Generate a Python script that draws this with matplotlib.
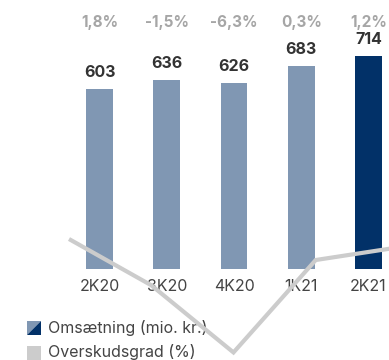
import matplotlib
matplotlib.use("Agg")
import matplotlib.pyplot as plt
from matplotlib.patches import Polygon, Rectangle

plt.rcParams['font.family'] = ['Inter', 'DejaVu Sans']

kvartaler = ["2K20", "3K20", "4K20", "1K21", "2K21"]
omsaetning = [603, 636, 626, 683, 714]
overskudsgrad = [1.8, -1.5, -6.3, 0.3, 1.2]
pct_tekst = ["1,8%", "-1,5%", "-6,3%", "0,3%", "1,2%"]

lys = "#8097b3"
moerk = "#023168"
graa = "#cccccc"

fig = plt.figure(figsize=(3.89, 3.60), dpi=100)

# søjler
ax = fig.add_axes([0, 0, 1, 1])
x = list(range(len(kvartaler)))
farver = [lys] * (len(x) - 1) + [moerk]
ax.bar(x, omsaetning, width=0.40, color=farver, zorder=2)
ax.set_xlim(-1.48, 4.305)
ax.set_ylim(-305, 903)
ax.axis("off")

for i, v in enumerate(omsaetning):
    ax.annotate(str(v), (i, v), xytext=(0, 6.5), textcoords="offset points",
                ha="center", va="bottom", fontsize=11.5, fontweight="bold",
                color="#333333")
    ax.text(i, 826, pct_tekst[i], ha="center", va="center", fontsize=11,
            fontweight="bold", color="#a6a6a6")
    ax.text(i, -58, kvartaler[i], ha="center", va="center", fontsize=11.5,
            color="#444444")

# overskudsgrad som linje oven på det hele
ax2 = fig.add_axes([0, 0, 1, 1], zorder=5)
ax2.patch.set_alpha(0)
ax2.plot(range(len(overskudsgrad)), overskudsgrad, color=graa, lw=3.0,
         solid_joinstyle="miter", solid_capstyle="butt")
ax2.set_xlim(-0.839, 3.891)
ax2.set_ylim(-6.84, 18.87)
ax2.axis("off")

# forklaring
W, H = 389.0, 360.0
def px(x0, y0):
    return (x0 / W, 1 - y0 / H)

x0, y0, s = 27, 321, 14
fig.patches.append(Polygon([px(x0, y0), px(x0 + s, y0), px(x0, y0 + s)],
                           closed=True, transform=fig.transFigure,
                           facecolor=lys, edgecolor="none"))
fig.patches.append(Polygon([px(x0 + s, y0), px(x0 + s, y0 + s), px(x0, y0 + s)],
                           closed=True, transform=fig.transFigure,
                           facecolor=moerk, edgecolor="none"))
fig.patches.append(Rectangle(px(x0, y0 + 25 + s), s / W, s / H,
                             transform=fig.transFigure,
                             facecolor=graa, edgecolor="none"))
fig.text(*px(48, 328), "Omsætning (mio. kr.)", va="center", fontsize=11.5,
         color="#444444")
fig.text(*px(48, 352), "Overskudsgrad (%)", va="center", fontsize=11.5,
         color="#444444")

fig.savefig("out.png", dpi=100)
